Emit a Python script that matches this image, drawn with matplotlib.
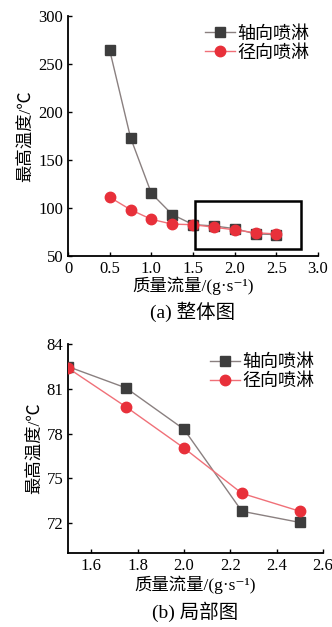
import matplotlib
matplotlib.use('Agg')
import matplotlib.pyplot as plt
from matplotlib.patches import Rectangle

plt.rcParams['font.family'] = ['Liberation Serif', 'Noto Sans CJK SC', 'DejaVu Serif']

flow = [0.5, 0.75, 1.0, 1.25, 1.5, 1.75, 2.0, 2.25, 2.5]
axial = [264, 173, 115, 93, 82.5, 81.1, 78.3, 72.8, 72.1]
radial = [111, 98, 88, 83, 82.4, 79.8, 77.0, 74.0, 72.8]

flow_b = [1.5, 1.75, 2.0, 2.25, 2.5]
axial_b = [82.5, 81.07, 78.3, 72.8, 72.05]
radial_b = [82.4, 79.8, 77.04, 74.0, 72.8]

xt_a = [0, 0.5, 1.0, 1.5, 2.0, 2.5, 3.0]
xt_a_lab = ['0', '0.5', '1.0', '1.5', '2.0', '2.5', '3.0']
yt_a = [50, 100, 150, 200, 250, 300]
xt_b = [1.6, 1.8, 2.0, 2.2, 2.4, 2.6]
yt_b = [72, 75, 78, 81, 84]

ax_col = '#3d3d3d'
ax_line = '#8a8080'
rad_col = '#e8303a'
rad_line = '#f07078'
cjk = ['Noto Sans CJK SC']
xlab = '质量流量/(g·s⁻¹)'
ylab = '最高温度/℃'

fig = plt.figure(figsize=(3.32, 6.27), dpi=100)
ax1 = fig.add_axes([0.205, 0.592, 0.753, 0.383])
ax2 = fig.add_axes([0.205, 0.118, 0.768, 0.333])

def style(ax):
    for s in ['top', 'right']:
        ax.spines[s].set_visible(False)
    for s in ['left', 'bottom']:
        ax.spines[s].set_linewidth(1.3)
    ax.tick_params(direction='in', labelsize=12, length=3, width=1)

def draw(ax, x, a, r):
    ax.plot(x, a, '-', color=ax_line, lw=1, marker='s', ms=7,
            mfc=ax_col, mec=ax_col, label='轴向喷淋', zorder=3)
    ax.plot(x, r, '-', color=rad_line, lw=1, marker='o', ms=7.5,
            mfc=rad_col, mec=rad_col, label='径向喷淋', zorder=4)
    ax.legend(loc='upper right', frameon=False, prop={'family': cjk, 'size': 13},
              handlelength=1.7, handletextpad=0.1, labelspacing=0.05,
              borderaxespad=0.1)

draw(ax1, flow, axial, radial)
style(ax1)
ax1.set_xlim(0, 3.0)
ax1.set_ylim(50, 300)
ax1.set_xticks(xt_a)
ax1.set_xticklabels(xt_a_lab)
ax1.set_yticks(yt_a)
ax1.add_patch(Rectangle((1.52, 57), 1.28, 50, fill=False, ec='black', lw=1.8, zorder=5))
ax1.set_xlabel(xlab, fontsize=12.5, labelpad=0)
ax1.set_ylabel(ylab, fontsize=12.5, labelpad=2)
ax1.text(0.5, -0.235, '(a) 整体图', transform=ax1.transAxes, ha='center',
         va='center', fontsize=14)

draw(ax2, flow_b, axial_b, radial_b)
style(ax2)
ax2.set_xlim(1.5, 2.6)
ax2.set_ylim(70, 84)
ax2.set_xticks(xt_b)
ax2.set_yticks(yt_b)
ax2.set_xlabel(xlab, fontsize=12.5, labelpad=1)
ax2.set_ylabel(ylab, fontsize=12.5, labelpad=2)
ax2.text(0.5, -0.28, '(b) 局部图', transform=ax2.transAxes, ha='center',
         va='center', fontsize=14)

fig.savefig('out.png', dpi=100)
